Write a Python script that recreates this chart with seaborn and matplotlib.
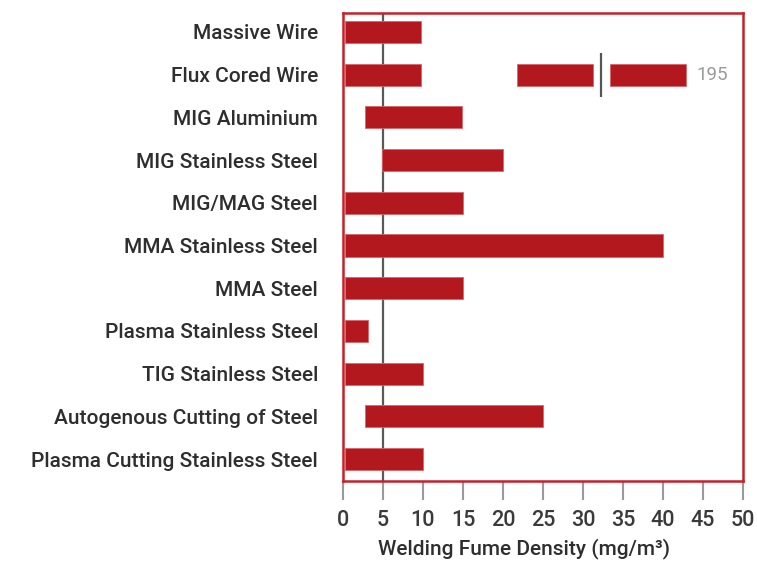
import seaborn as sns
import matplotlib.pyplot as plt
import numpy as np
import pandas as pd

processes = [
    'Massive Wire',
    'Flux Cored Wire',
    'MIG Aluminium',
    'MIG Stainless Steel',
    'MIG/MAG Steel',
    'MMA Stainless Steel',
    'MMA Steel',
    'Plasma Stainless Steel',
    'TIG Stainless Steel',
    'Autogenous Cutting of Steel',
    'Plasma Cutting Stainless Steel',
]
range_start = [0.3, 0.3, 2.8, 4.9, 0.3, 0.3, 0.3, 0.3, 0.3, 2.75, 0.3]
range_end = [9.7, 9.7, 14.9, 20, 15, 40, 15, 3.1, 10, 25, 10]

# Flux Cored Wire goes off the scale (to 195), drawn with a break
flux_segments = [(21.7, 31.2), (33.4, 42.9)]
flux_break = 32.3
flux_max_label = '195'

limit_value = 5
x_ticks = list(range(0, 55, 5))

df = pd.DataFrame({'Process': processes, 'start': range_start, 'end': range_end})
df['length'] = df['end'] - df['start']

bar_color = '#b3181e'
frame_color = '#c62028'
text_color = '#2e2e2e'

sns.set_style('white')
plt.rcParams['font.family'] = ['Roboto', 'DejaVu Sans']

fig = plt.figure(figsize=(7.57, 5.63), dpi=100)
ax = fig.add_axes([0.453, 0.1456, 0.5285, 0.8314])

ax.axvline(limit_value, color='#5a5a5a', lw=1.6, zorder=1)

sns.barplot(data=df, x='end', y='Process', color=bar_color, width=0.52,
            orient='h', ax=ax, zorder=3, saturation=1)
for patch, s, length in zip(ax.patches, df['start'], df['length']):
    patch.set_x(s)
    patch.set_width(length)
    patch.set_edgecolor('#d8656a')
    patch.set_linewidth(0.6)

row = processes.index('Flux Cored Wire')
for s, e in flux_segments:
    ax.barh(row, e - s, left=s, height=0.52, color=bar_color,
            edgecolor='#d8656a', linewidth=0.6, zorder=3)
ax.vlines(flux_break, row - 0.5, row + 0.53, color='#555555', lw=1.6, zorder=4)
ax.text(flux_segments[-1][1] + 1.3, row, flux_max_label, va='center', ha='left',
        fontsize=13.5, color='#9a9a9a')

ax.set_xlim(0, 50)
ax.set_ylim(len(processes) - 0.485, -0.445)
ax.set_xticks(x_ticks)
ax.set_xlabel('Welding Fume Density (mg/m³)', fontsize=15, color=text_color,
              fontweight='medium')
ax.xaxis.set_label_coords(0.453, -0.121)
ax.set_ylabel('')

for sp in ax.spines.values():
    sp.set_visible(True)
    sp.set_color(frame_color)
    sp.set_linewidth(1.8)
    sp.set_zorder(5)

ax.tick_params(axis='x', direction='out', length=14, width=1.5, color='#9a9a9a',
               labelsize=15.5, labelcolor='#3a3a3a', pad=7, bottom=True)
ax.tick_params(axis='y', length=0, pad=18, labelsize=15, labelcolor=text_color)
for lbl in ax.get_yticklabels() + ax.get_xticklabels():
    lbl.set_fontweight('medium')

fig.savefig('out.png', dpi=100)
